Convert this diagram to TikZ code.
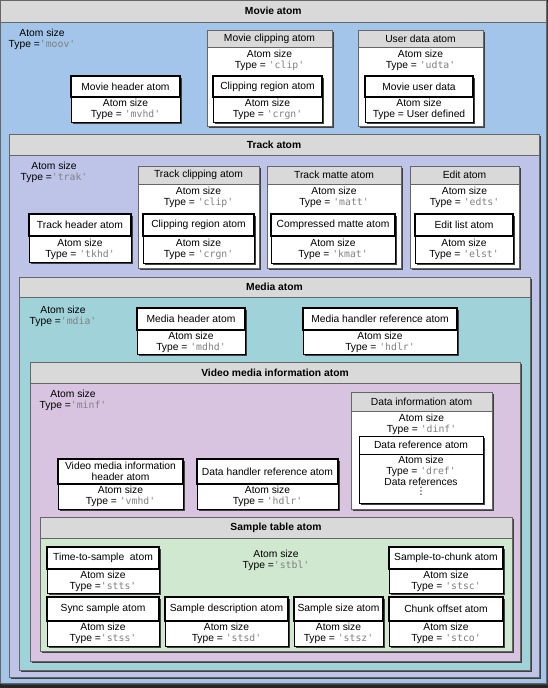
\documentclass[tikz,border=0pt]{standalone}
\usepackage{fontspec}
\setmainfont{Liberation Sans}
\newfontfamily\codefont{DejaVu Sans Mono}
\newfontfamily\dotsfont{DejaVu Sans}
\usepackage{tikz}
\usetikzlibrary{fit, shadows, calc}
\definecolor{moovblue}{RGB}{162, 197, 233}
\definecolor{trakviolet}{RGB}{189, 196, 232}
\definecolor{mdiateal}{RGB}{159, 211, 217}
\definecolor{minfpink}{RGB}{216, 196, 224}
\definecolor{stblgreen}{RGB}{208, 232, 208}
\definecolor{headgray}{RGB}{217, 217, 217}
\definecolor{codegray}{RGB}{128, 128, 128}
\newcommand\atomfont{\fontsize{10.3}{11}\selectfont}
\newcommand\typecode[1]{{\codefont\fontsize{9.8}{11}\selectfont\color{codegray}#1}}
\newcommand\container[8]{%
  \node[container, fill=#8, fit={(#2,#3) (#4,#5)}] (#1) {};
  \node[atomhead, fit={(#2,#3) (#4,#6)}] (#1-head) {};
  \node[bodytext, font=\atomfont\bfseries] (#1-title) at (#1-head.center) {#7};
}
\newcommand\groupatom[8]{%
  \node[groupbody, fit={(#2,#3) (#4,#5)}] (#1) {};
  \node[atomhead, fit={(#2,#3) (#4,#6)}] (#1-head) {};
  \node[bodytext] (#1-title) at (#1-head.center) {#7};
  \node[bodytext, anchor=north, yshift=-2.5pt] (#1-text) at (#1-head.south) {#8};
}
\newcommand\leafatom[8]{%
  \node[leafbody, fit={(#2,#3) (#4,#5)}] (#1) {};
  \node[leafhead, fit={(#2,#3) (#4,#6)}] (#1-head) {};
  \node[bodytext] (#1-title) at (#1-head.center) {#7};
  \node[bodytext] (#1-text) at ($(#2,#6)!0.5!(#4,#5)$) {#8};
}

\begin{document}
\begin{tikzpicture}[x=1pt, y=-1pt,
  atomshadow/.style={drop shadow={shadow xshift=1.6pt, shadow yshift=-1.6pt, fill=black!75, opacity=1}},
  container/.style={draw=black!60, line width=0.6pt, inner sep=0pt, atomshadow},
  atomhead/.style={draw=black!60, fill=headgray, line width=0.6pt, inner sep=0pt},
  groupbody/.style={draw=black!60, fill=white, line width=0.6pt, inner sep=0pt, atomshadow},
  leafbody/.style={draw=black, fill=white, line width=0.7pt, inner sep=0pt, atomshadow},
  leafhead/.style={draw=black, fill=white, line width=1.6pt, inner sep=0pt},
  bodytext/.style={inner sep=0pt, font=\atomfont, align=center}
]
  \useasboundingbox (0,0) rectangle (548,688);
  \fill[black!85] (0,0) rectangle (548,688);

  \container{moov}{0.5}{0.5}{546}{683}{22}{Movie atom}{moovblue}
  \node[bodytext] (moov-size) at (42,39) {Atom size\\Type =\typecode{'moov'}};
  \leafatom{mvhd}{71}{76}{180}{122}{97}{Movie header atom}{Atom size\\Type = \typecode{'mvhd'}}
  \groupatom{mclip}{207}{30}{332}{126}{47}{Movie clipping atom}{Atom size\\Type = \typecode{'clip'}}
  \leafatom{mcrgn}{213}{76}{322}{122}{97}{Clipping region atom}{Atom size\\Type = \typecode{'crgn'}}
  \groupatom{udta}{358}{30}{483}{126}{47}{User data atom}{Atom size\\Type = \typecode{'udta'}}
  \leafatom{muser}{365}{76}{473}{122}{97}{Movie user data}{Atom size\\Type = User defined}

  \container{trak}{9}{134}{539}{677}{155}{Track atom}{trakviolet}
  \node[bodytext] (trak-size) at (54,172) {Atom size\\Type =\typecode{'trak'}};
  \leafatom{tkhd}{29}{214}{131}{262}{236}{Track header atom}{Atom size\\Type = \typecode{'tkhd'}}
  \groupatom{tclip}{138}{166}{259}{268}{184}{Track clipping atom}{Atom size\\Type = \typecode{'clip'}}
  \leafatom{tcrgn}{143}{214}{254}{263}{236}{Clipping region atom}{Atom size\\Type = \typecode{'crgn'}}
  \groupatom{matt}{267}{166}{401}{268}{184}{Track matte atom}{Atom size\\Type = \typecode{'matt'}}
  \leafatom{kmat}{271}{214}{395}{263}{236}{Compressed matte atom}{Atom size\\Type = \typecode{'kmat'}}
  \groupatom{edts}{410}{166}{519}{268}{184}{Edit atom}{Atom size\\Type = \typecode{'edts'}}
  \leafatom{elst}{415}{214}{513}{263}{236}{Edit list atom}{Atom size\\Type = \typecode{'elst'}}

  \container{mdia}{19}{277}{530}{670}{297}{Media atom}{mdiateal}
  \node[bodytext] (mdia-size) at (63,316) {Atom size\\Type =\typecode{'mdia'}};
  \leafatom{mdhd}{137}{308}{245}{354}{330}{Media header atom}{Atom size\\Type = \typecode{'mdhd'}}
  \leafatom{mhdlr}{303}{308}{457}{354}{330}{Media handler reference atom}{Atom size\\Type = \typecode{'hdlr'}}

  \container{minf}{30}{362}{520}{661}{383}{Video media information atom}{minfpink}
  \node[bodytext] (minf-size) at (73,400) {Atom size\\Type =\typecode{'minf'}};
  \leafatom{vmhd}{58}{459}{183}{509}{484}{Video media information\\header atom}{Atom size\\Type = \typecode{'vmhd'}}
  \leafatom{dhdlr}{197}{459}{338}{509}{484}{Data handler reference atom}{Atom size\\Type = \typecode{'hdlr'}}
  \groupatom{dinf}{351}{392}{492}{509}{411}{Data information atom}{Atom size\\Type = \typecode{'dinf'}}
  \node[groupbody, draw=black, fit={(359,436) (483,503)}] (dref) {};
  \node[atomhead, draw=black, fill=white, fit={(359,436) (483,454)}] (dref-head) {};
  \node[bodytext] (dref-title) at (dref-head.center) {Data reference atom};
  \node[bodytext, anchor=north, yshift=-2pt] (dref-text) at (dref-head.south) {Atom size\\Type = \typecode{'dref'}\\Data references};
  \node[bodytext, anchor=north, yshift=-1pt, font=\dotsfont\fontsize{10}{10}\selectfont] (dref-dots) at (dref-text.south) {⋮};

  \container{stbl}{40}{517}{512}{651}{538}{Sample table atom}{stblgreen}
  \node[bodytext] (stbl-size) at (276,560) {Atom size\\Type =\typecode{'stbl'}};
  \leafatom{stts}{47}{547}{159}{593}{569}{Time-to-sample\ \ atom}{Atom size\\Type =\typecode{'stts'}}
  \leafatom{stsc}{389}{547}{503}{593}{569}{Sample-to-chunk atom}{Atom size\\Type = \typecode{'stsc'}}
  \leafatom{stss}{47}{597}{159}{646}{621}{Sync sample atom}{Atom size\\Type =\typecode{'stss'}}
  \leafatom{stsd}{165}{597}{288}{646}{621}{Sample description atom}{Atom size\\Type = \typecode{'stsd'}}
  \leafatom{stsz}{294}{597}{383}{646}{621}{Sample size atom}{Atom size\\Type = \typecode{'stsz'}}
  \leafatom{stco}{389}{597}{503}{646}{621}{Chunk offset atom}{Atom size\\Type = \typecode{'stco'}}
\end{tikzpicture}
\end{document}
